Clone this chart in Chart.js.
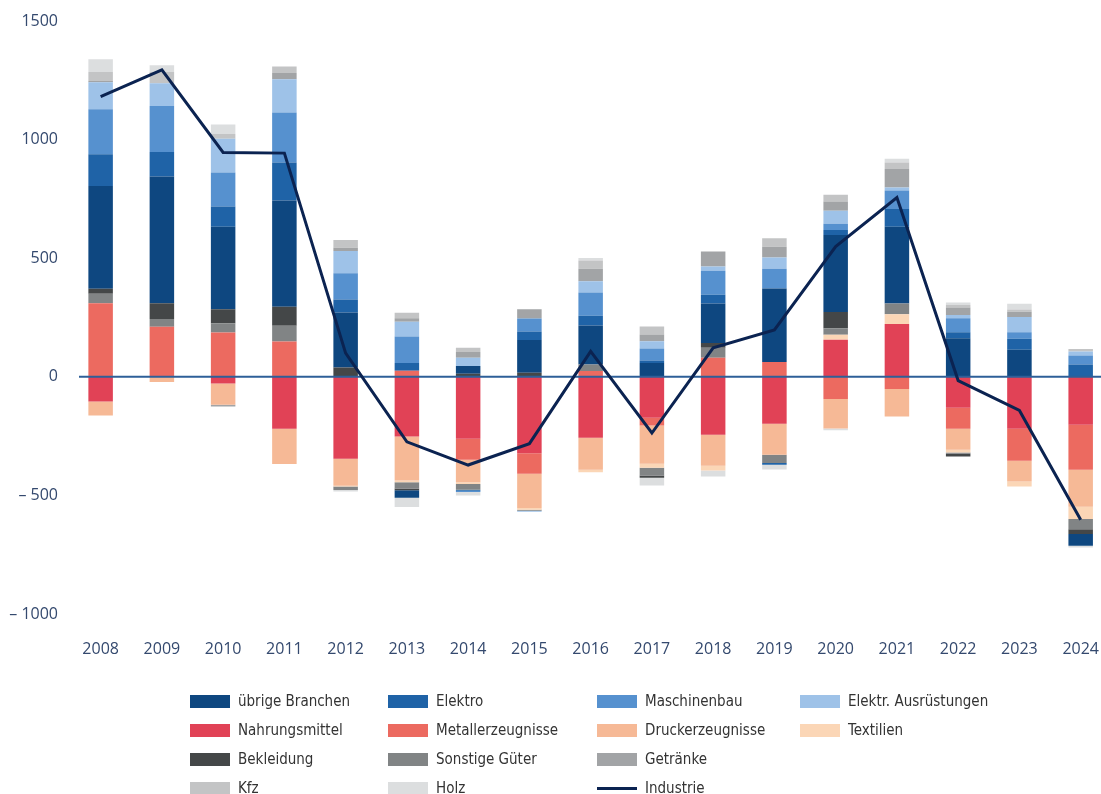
<!DOCTYPE html>
<html>
<head>
<meta charset="utf-8">
<script src="https://cdn.jsdelivr.net/npm/chart.js@4.4.1/dist/chart.umd.min.js"></script>
<style>
    body { margin: 0; background: #fff; overflow: hidden; width: 1101px; height: 794px; position: relative; }
    #wrap { position: absolute; left: 0; top: 0; width: 1117px; height: 660px; }
    #legend { position: absolute; left: 0; top: 0; width: 1101px; height: 794px; pointer-events: none; }
    .item { position: absolute; font-family: "Liberation Sans Narrow", "DejaVu Sans Condensed", "Open Sans", sans-serif; font-size: 15px; color: #333; line-height: 20px; white-space: nowrap; }
    .item .box { position: absolute; left: 0; top: 4px; width: 40px; height: 13px; }
    .item .line { position: absolute; left: 0; top: 9px; width: 40px; height: 3px; }
    .item span { position: absolute; left: 48px; top: 0; }
</style>
</head>
<body>
<div id="wrap"><canvas id="chart"></canvas></div>
<div id="legend"></div>
<script>
// Jahre
const years = ["2008", "2009", "2010", "2011", "2012", "2013", "2014", "2015", "2016", "2017", "2018", "2019", "2020", "2021", "2022", "2023", "2024"];

// Beiträge je Branche (Reihenfolge = Stapelreihenfolge)
const nahrungsmittel = [-104, 0, -28, -219, -346, -252, -261, -322, -257, -173, -244, -198, 156, 223, -131, -219, -202];
const metallerzeugnisse = [310, 211, 187, 149, 0, 25, -89, -87, 24, -32, 80, 62, -94, -51, -88, -135, -190];
const druckerzeugnisse = [-59, -22, -90, -149, -113, -185, -95, -144, -135, -162, -131, -131, -124, -116, -89, -87, -156];
const textilien = [0, 0, 0, 0, -3, -8, -7, -7, -10, -16, -20, 0, 21, 41, -11, -21, -52];
const sonstigeGueter = [40, 33, 39, 66, -15, -26, -24, -5, 28, -33, 42, -34, 28, 45, -4, 0, -43];
const bekleidung = [21, 66, 59, 80, 39, -7, 13, 17, 0, -10, 20, 0, 68, 0, -13, 0, -20];
const uebrigeBranchen = [433, 534, 348, 448, 232, -32, 33, 138, 164, 58, 167, 310, 325, 324, 163, 114, -49];
const elektro = [134, 104, 85, 160, 55, 33, -4, 36, 41, 11, 37, -8, 21, 74, 25, 46, 52];
const maschinenbau = [190, 194, 143, 211, 111, 112, -6, 55, 98, 50, 101, 83, 26, 78, 59, 28, 38];
const elektrAusruestungen = [114, 96, 143, 140, 93, 62, 34, -4, 48, 31, 18, 48, 55, 13, 14, 64, 17];
const getraenke = [5, 0, -7, 27, 14, 15, 25, 39, 52, 28, 63, 45, 39, 78, 31, 22, 0];
const kfz = [38, 47, 20, 27, 33, 23, 17, 0, 35, 34, 0, 36, 28, 27, 11, 10, 10];
const holz = [54, 28, 40, 0, -7, -39, -14, 0, 11, -32, -25, -20, -7, 16, 10, 24, -8];

// Gesamt
const industrie = [1181, 1294, 946, 943, 100, -274, -372, -282, 107, -237, 122, 198, 549, 756, -16, -142, -603];

// y-Achse
const yTicks = [-1000, -500, 0, 500, 1000, 1500];

const tickColor = "#34496e";
const zeroColor = "#2e5f98";

const barSeries = [
    { label: "Nahrungsmittel", data: nahrungsmittel, color: "#e14256" },
    { label: "Metallerzeugnisse", data: metallerzeugnisse, color: "#ec6a60" },
    { label: "Druckerzeugnisse", data: druckerzeugnisse, color: "#f6b996" },
    { label: "Textilien", data: textilien, color: "#fbd6b6" },
    { label: "Sonstige Güter", data: sonstigeGueter, color: "#818485" },
    { label: "Bekleidung", data: bekleidung, color: "#444748" },
    { label: "übrige Branchen", data: uebrigeBranchen, color: "#0e4780" },
    { label: "Elektro", data: elektro, color: "#1f63a7" },
    { label: "Maschinenbau", data: maschinenbau, color: "#5691cf" },
    { label: "Elektr. Ausrüstungen", data: elektrAusruestungen, color: "#9ec2e8" },
    { label: "Getränke", data: getraenke, color: "#a2a4a6" },
    { label: "Kfz", data: kfz, color: "#c3c4c5" },
    { label: "Holz", data: holz, color: "#dcdedf" }
];

// Legende wie im Original, spaltenweise
const legendOrder = [
    ["übrige Branchen", "Elektro", "Maschinenbau", "Elektr. Ausrüstungen"],
    ["Nahrungsmittel", "Metallerzeugnisse", "Druckerzeugnisse", "Textilien"],
    ["Bekleidung", "Sonstige Güter", "Getränke", null],
    ["Kfz", "Holz", "Industrie", null]
];

// Nulllinie vor der Industrie-Linie zeichnen
const zeroLinePlugin = {
    id: "zeroLine",
    beforeDatasetDraw(chart, args) {
        if (args.meta.type !== "line") return;
        const y = chart.scales.y.getPixelForValue(0);
        const ctx = chart.ctx;
        ctx.save();
        ctx.strokeStyle = zeroColor;
        ctx.lineWidth = 2;
        ctx.beginPath();
        ctx.moveTo(79, y);
        ctx.lineTo(chart.chartArea.right, y);
        ctx.stroke();
        ctx.restore();
    }
};

function drawChart() {
    const ctx = document.getElementById("chart").getContext("2d");

    const datasets = barSeries.map(s => ({
        type: "bar",
        label: s.label,
        data: s.data,
        backgroundColor: s.color,
        borderWidth: 0,
        stack: "branchen",
        barPercentage: 0.4,
        categoryPercentage: 1,
        order: 2
    }));

    datasets.push({
        type: "line",
        label: "Industrie",
        data: industrie,
        borderColor: "#0b2351",
        borderWidth: 3,
        pointRadius: 0,
        tension: 0,
        stack: "industrie",
        order: 1
    });

    new Chart(ctx, {
        data: { labels: years, datasets: datasets },
        plugins: [zeroLinePlugin],
        options: {
            responsive: true,
            maintainAspectRatio: false,
            animation: false,
            layout: { padding: { top: 21, right: 1, left: 0, bottom: 0 } },
            plugins: {
                legend: { display: false },
                tooltip: { enabled: false }
            },
            scales: {
                x: {
                    stacked: true,
                    grid: { display: false },
                    border: { display: false },
                    ticks: {
                        color: tickColor,
                        font: { family: "Open Sans", size: 16 },
                        padding: 18,
                        maxRotation: 0
                    },
                    afterFit(scale) { scale.height = 46; }
                },
                y: {
                    stacked: true,
                    min: -1000,
                    max: 1500,
                    afterBuildTicks(scale) {
                        scale.ticks = yTicks.map(v => ({ value: v }));
                    },
                    grid: { display: false },
                    border: { display: false },
                    ticks: {
                        color: tickColor,
                        font: { family: "Open Sans", size: 16 },
                        padding: 4,
                        callback: v => v < 0 ? "\u2013 " + Math.abs(v) : String(v)
                    },
                    afterFit(scale) { scale.width = 70; }
                }
            }
        }
    });
}

function drawLegend() {
    const legend = document.getElementById("legend");
    const colX = [190, 388, 597, 800];
    const rowY = [691, 720, 749, 778];
    const colors = {};
    barSeries.forEach(s => { colors[s.label] = s.color; });

    legendOrder.forEach((row, r) => {
        row.forEach((name, c) => {
            if (!name) return;
            const item = document.createElement("div");
            item.className = "item";
            item.style.left = colX[c] + "px";
            item.style.top = rowY[r] + "px";
            const mark = document.createElement("div");
            if (name === "Industrie") {
                mark.className = "line";
                mark.style.background = "#0b2351";
            } else {
                mark.className = "box";
                mark.style.background = colors[name];
            }
            const text = document.createElement("span");
            text.textContent = name;
            item.appendChild(mark);
            item.appendChild(text);
            legend.appendChild(item);
        });
    });
}

drawChart();
drawLegend();
</script>
</body>
</html>
